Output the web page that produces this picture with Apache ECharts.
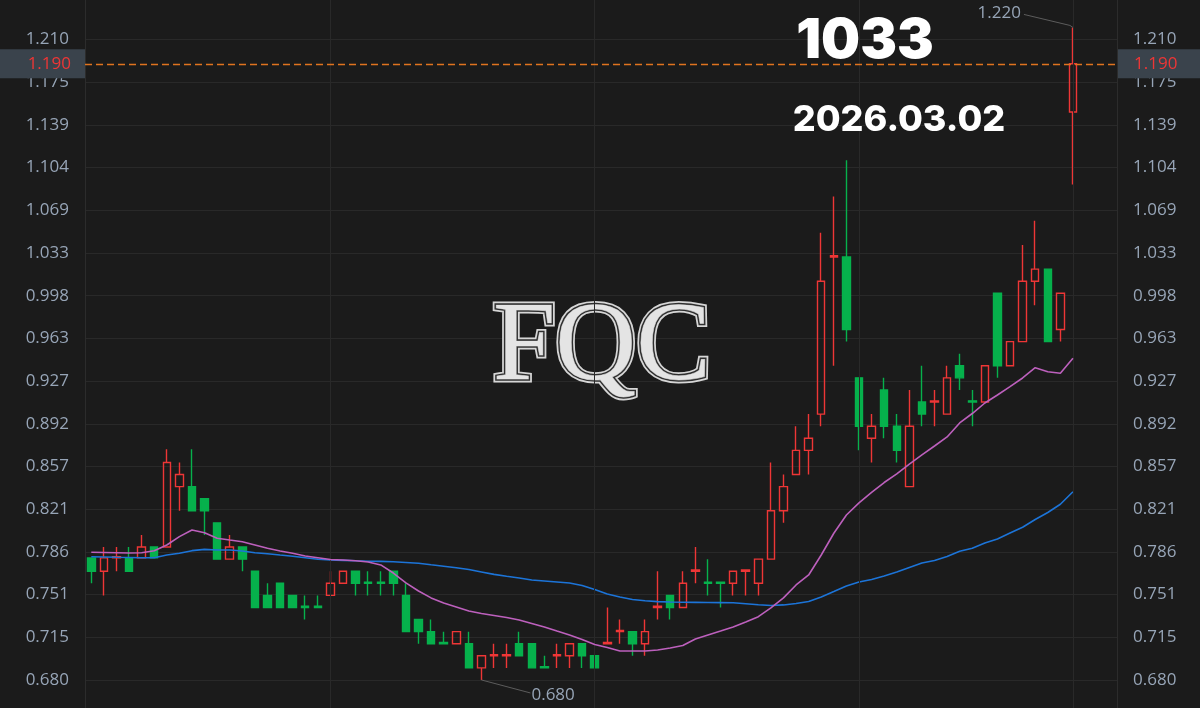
<!DOCTYPE html>
<html>
<head>
<meta charset="utf-8">
<script src="https://cdn.jsdelivr.net/npm/echarts@6/dist/echarts.min.js"></script>
<style>
html,body{margin:0;padding:0;background:#1b1b1b;}
#c{width:1200px;height:708px;}
</style>
</head>
<body>
<div id="c"></div>
<script>
// ---- data ----
const openVals = [
  0.781,0.770,0.781,0.781,0.781,0.790,0.790,0.840,0.840,0.830,
  0.810,0.780,0.790,0.770,0.750,0.760,0.750,0.741,0.741,0.750,
  0.760,0.770,0.761,0.761,0.770,0.750,0.730,0.720,0.711,0.710,
  0.710,0.690,0.700,0.700,0.710,0.710,0.691,0.700,0.700,0.710,
  0.700,0.710,0.720,0.720,0.710,0.740,0.750,0.740,0.770,0.761,
  0.761,0.760,0.770,0.760,0.780,0.820,0.850,0.870,0.900,1.030,
  1.030,0.930,0.880,0.920,0.890,0.840,0.910,0.910,0.900,0.940,
  0.911,0.910,1.000,0.940,0.960,1.010,1.020,0.970,1.150
];
const closeVals = [
  0.770,0.781,0.782,0.770,0.790,0.781,0.860,0.850,0.820,0.820,
  0.780,0.790,0.780,0.740,0.740,0.740,0.740,0.740,0.740,0.760,
  0.770,0.760,0.760,0.760,0.760,0.720,0.720,0.710,0.710,0.720,
  0.690,0.700,0.701,0.701,0.700,0.690,0.690,0.701,0.710,0.700,
  0.690,0.711,0.721,0.710,0.720,0.741,0.740,0.760,0.771,0.760,
  0.760,0.770,0.771,0.780,0.820,0.840,0.870,0.880,1.010,1.031,
  0.970,0.890,0.890,0.890,0.870,0.890,0.900,0.911,0.930,0.930,
  0.910,0.940,0.940,0.960,1.010,1.020,0.960,1.000,1.190
];
const lowVals = [
  0.760,0.750,0.770,0.770,0.781,0.781,0.790,0.820,0.820,0.800,
  0.780,0.780,0.770,0.740,0.740,0.740,0.740,0.730,0.740,0.750,
  0.760,0.750,0.750,0.750,0.750,0.720,0.710,0.710,0.710,0.710,
  0.690,0.680,0.690,0.690,0.700,0.690,0.690,0.690,0.690,0.690,
  0.690,0.710,0.710,0.700,0.700,0.730,0.730,0.740,0.760,0.750,
  0.740,0.750,0.750,0.750,0.780,0.810,0.850,0.850,0.890,0.940,
  0.960,0.870,0.860,0.880,0.860,0.840,0.890,0.890,0.900,0.920,
  0.890,0.910,0.930,0.940,0.960,0.990,0.960,0.960,1.090
];
const highVals = [
  0.781,0.790,0.790,0.790,0.800,0.790,0.871,0.860,0.871,0.830,
  0.810,0.800,0.790,0.770,0.760,0.760,0.750,0.750,0.750,0.770,
  0.770,0.770,0.770,0.770,0.770,0.760,0.730,0.730,0.720,0.720,
  0.720,0.700,0.710,0.710,0.720,0.710,0.700,0.710,0.710,0.710,
  0.700,0.740,0.730,0.720,0.730,0.770,0.750,0.770,0.790,0.780,
  0.761,0.770,0.771,0.780,0.860,0.850,0.890,0.900,1.050,1.080,
  1.110,0.930,0.900,0.930,0.900,0.920,0.940,0.920,0.940,0.950,
  0.920,0.940,1.000,0.960,1.040,1.060,1.020,1.000,1.220
];
const maPink = [
  0.7857,0.7855,0.7853,0.7851,0.7853,0.7870,0.7917,0.7986,0.8041,0.8019,
  0.7973,0.7958,0.7944,0.7917,0.7890,0.7867,0.7848,0.7826,0.7812,0.7797,
  0.7793,0.7787,0.7776,0.7752,0.7685,0.7603,0.7536,0.7479,0.7437,0.7404,
  0.7371,0.7350,0.7334,0.7317,0.7296,0.7268,0.7239,0.7205,0.7172,0.7135,
  0.7094,0.7069,0.7040,0.7040,0.7040,0.7048,0.7065,0.7085,0.7139,0.7172,
  0.7205,0.7239,0.7280,0.7324,0.7396,0.7479,0.7586,0.7669,0.7834,0.8014,
  0.8165,0.8265,0.8352,0.8434,0.8505,0.8587,0.8662,0.8736,0.8811,0.8927,
  0.9005,0.9092,0.9158,0.9227,0.9299,0.9384,0.9351,0.9338,0.9462
];
const maBlue = [
  0.7820,0.7818,0.7815,0.7814,0.7812,0.7812,0.7834,0.7848,0.7870,0.7881,
  0.7876,0.7876,0.7867,0.7853,0.7845,0.7834,0.7824,0.7812,0.7799,0.7793,
  0.7790,0.7786,0.7783,0.7781,0.7778,0.7772,0.7766,0.7753,0.7741,0.7729,
  0.7714,0.7694,0.7674,0.7658,0.7644,0.7627,0.7619,0.7611,0.7603,0.7582,
  0.7549,0.7512,0.7487,0.7466,0.7456,0.7448,0.7445,0.7443,0.7442,0.7441,
  0.7440,0.7439,0.7431,0.7423,0.7416,0.7421,0.7433,0.7450,0.7487,0.7532,
  0.7578,0.7611,0.7632,0.7661,0.7694,0.7731,0.7768,0.7789,0.7822,0.7865,
  0.7890,0.7934,0.7967,0.8016,0.8064,0.8128,0.8186,0.8254,0.8358
];
const yTicks = [0.680,0.71533,0.75067,0.786,0.82133,0.85667,0.892,0.92733,
                0.96267,0.998,1.03333,1.06867,1.104,1.13933,1.17467,1.210];
const monthStartIdx = [19, 40, 61, 78];
const emptySlots = 3;
const categories = openVals.map((_, i) => String(i + 1)).concat(new Array(emptySlots).fill(''));
const lastPrice = 1.190;
const highIdx = 78, highVal = 1.220;
const lowIdx = 31, lowVal = 0.680;
const titleText = '1033';
const dateText = '2026.03.02';
const markText = 'FQC';

const ohlc = openVals.map((o, i) => [o, closeVals[i], lowVals[i], highVals[i]]);

const RED = '#ee3636', GREEN = '#06b14c';
const LABEL = '#97a5b7', GRID = '#292929';
const labelFont = { color: LABEL, fontSize: 17, fontFamily: 'Open Sans' };

const chart = echarts.init(document.getElementById('c'), null, { renderer: 'canvas' });
const option = {
  backgroundColor: '#1b1b1b',
  animation: false,
  grid: { left: 85, right: 83, top: 0, bottom: 0 },
  xAxis: {
    type: 'category', data: categories, boundaryGap: true,
    axisLine: { show: false }, axisTick: { show: false }, axisLabel: { show: false },
    splitLine: { show: false }
  },
  yAxis: [
    {
      type: 'value', position: 'left', min: 0.6568, max: 1.2427,
      axisLine: { show: true, lineStyle: { color: '#2c2c2c' } },
      axisTick: { show: false, customValues: yTicks },
      axisLabel: Object.assign({ customValues: yTicks, margin: 16, formatter: v => v.toFixed(3) }, labelFont),
      splitLine: { show: true, lineStyle: { color: GRID, width: 1 } }
    },
    {
      type: 'value', position: 'right', min: 0.6568, max: 1.2427,
      axisLine: { show: true, lineStyle: { color: '#2c2c2c' } },
      axisTick: { show: false, customValues: yTicks },
      axisLabel: Object.assign({ customValues: yTicks, margin: 16, formatter: v => v.toFixed(3) }, labelFont),
      splitLine: { show: false }
    }
  ],
  series: [
    {
      type: 'candlestick', data: ohlc, barWidth: 8, z: 3,
      itemStyle: { color: 'transparent', color0: GREEN, borderColor: RED, borderColor0: GREEN, borderWidth: 1.4 },
      markLine: {
        silent: true, symbol: ['none', 'none'], label: { show: false },
        lineStyle: { color: GRID, type: 'solid', width: 1 },
        data: monthStartIdx.map(i => ({ xAxis: i }))
      }
    },
    {
      type: 'line', data: maBlue, symbol: 'none', smooth: false, z: 4,
      lineStyle: { color: '#1c74d8', width: 1.6 }
    },
    {
      type: 'line', data: maPink, symbol: 'none', smooth: false, z: 5,
      lineStyle: { color: '#bd60bd', width: 1.6 }
    }
  ]
};
chart.setOption(option);

const px = (i, v) => chart.convertToPixel({ xAxisIndex: 0, yAxisIndex: 0 }, [i, v]);
const yP = chart.convertToPixel({ yAxisIndex: 0 }, lastPrice);
const hp = px(highIdx, highVal);
const lp = px(lowIdx, lowVal);
const gridLeft = 85, gridRight = 1200 - 83;

const wmFont = '112px "Liberation Serif", "DejaVu Serif", serif';
const wm = (extra) => ({ type: 'text', x: 602, y: 350, z: 1, silent: true,
  style: Object.assign({ text: markText, font: wmFont, align: 'center', verticalAlign: 'middle' }, extra) });
chart.setOption({
  graphic: [
    // watermark (layered outline for a metallic look)
    wm({ fill: '#d6d6d6', stroke: '#d6d6d6', lineWidth: 7 }),
    wm({ fill: '#2e2e2e', stroke: '#2e2e2e', lineWidth: 3.5 }),
    wm({ fill: '#e4e4e4', stroke: '#9a9a9a', lineWidth: 0.8 }),
    // last price dashed line
    { type: 'line', z: 7, silent: true,
      shape: { x1: gridLeft, y1: Math.round(yP) + 0.5, x2: gridRight, y2: Math.round(yP) + 0.5 },
      style: { stroke: '#e0731f', lineWidth: 1.3, lineDash: [7, 4] } },
    // title texts
    { type: 'text', x: 865, y: 41, z: 10, silent: true,
      style: { text: titleText, font: '900 55px Inter, "Liberation Sans", sans-serif', fill: '#ffffff', align: 'center', verticalAlign: 'middle' } },
    { type: 'text', x: 899, y: 120, z: 10, silent: true,
      style: { text: dateText, font: '800 36px Inter, "Liberation Sans", sans-serif', fill: '#ffffff', align: 'center', verticalAlign: 'middle' } },
    // price tags
    { type: 'rect', z: 20, silent: true, shape: { x: 0, y: yP - 14.5, width: gridLeft, height: 29 }, style: { fill: '#3a434c' } },
    { type: 'text', z: 21, silent: true, x: 71, y: yP,
      style: { text: lastPrice.toFixed(3), fill: RED, font: '17px "Open Sans"', align: 'right', verticalAlign: 'middle' } },
    { type: 'rect', z: 20, silent: true, shape: { x: gridRight + 1, y: yP - 14.5, width: 1200 - gridRight, height: 29 }, style: { fill: '#3a434c' } },
    { type: 'text', z: 21, silent: true, x: gridRight + 17, y: yP,
      style: { text: lastPrice.toFixed(3), fill: RED, font: '17px "Open Sans"', align: 'left', verticalAlign: 'middle' } },
    // high / low annotations
    { type: 'polyline', z: 6, silent: true, shape: { points: [[hp[0], hp[1]], [hp[0] - 3, hp[1] - 2], [hp[0] - 49, hp[1] - 13]] },
      style: { stroke: '#5c5c5c', lineWidth: 1, fill: null } },
    { type: 'text', z: 6, silent: true, x: hp[0] - 52, y: hp[1] - 14,
      style: { text: highVal.toFixed(3), fill: LABEL, font: '17px "Open Sans"', align: 'right', verticalAlign: 'middle' } },
    { type: 'polyline', z: 6, silent: true, shape: { points: [[lp[0], lp[1]], [lp[0] + 49, lp[1] + 13]] },
      style: { stroke: '#5c5c5c', lineWidth: 1, fill: null } },
    { type: 'text', z: 6, silent: true, x: lp[0] + 50, y: lp[1] + 15,
      style: { text: lowVal.toFixed(3), fill: LABEL, font: '17px "Open Sans"', align: 'left', verticalAlign: 'middle' } }
  ]
});
</script>
</body>
</html>
